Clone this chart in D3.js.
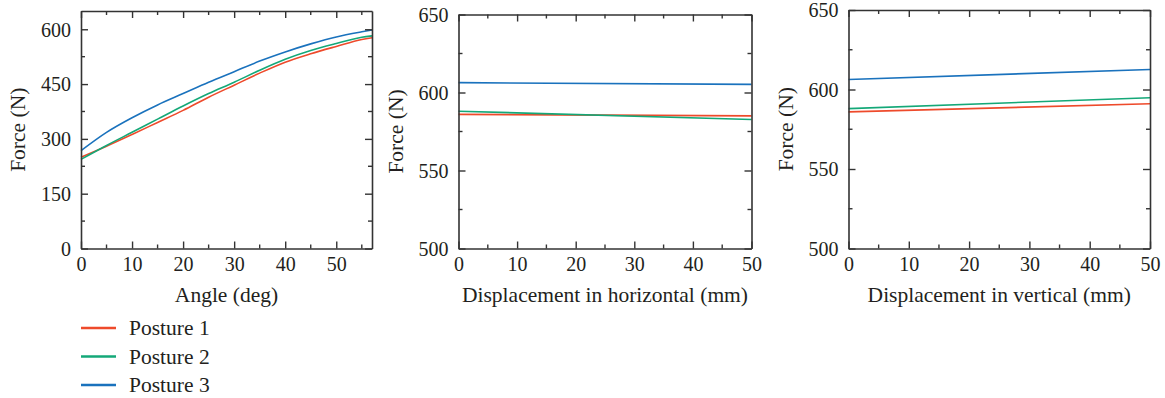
<!DOCTYPE html>
<html><head><meta charset="utf-8">
<script src="https://cdn.jsdelivr.net/npm/d3@7"></script>
<style>body{margin:0;background:#fff}svg{display:block}</style>
</head><body><svg id="c" width="1165" height="398"></svg>
<script>
// ---- data ----
const seriesNames = ["Posture 1", "Posture 2", "Posture 3"];
const seriesColors = ["#ee4a2b", "#14a878", "#1a72bd"];

const angleX = [0, 5, 10, 15, 20, 25, 30, 35, 40, 45, 50, 55, 57];
const angleP1 = [250, 280, 312, 345, 378, 414, 447, 480, 510, 533, 553, 572, 577];
const angleP2 = [244, 282, 318, 354, 390, 424, 455, 488, 518, 542, 561, 578, 582];
const angleP3 = [268, 318, 358, 393, 424, 455, 484, 513, 538, 560, 579, 593, 598];

const horizX = [0, 50];
const horizP1 = [586.0, 585.0];
const horizP2 = [588.0, 582.7];
const horizP3 = [606.3, 605.2];

const vertX = [0, 50];
const vertP1 = [585.9, 591.0];
const vertP2 = [588.0, 594.8];
const vertP3 = [606.3, 612.6];

const yTicks1 = [0, 150, 300, 450, 600];
const yTicks23 = [500, 550, 600, 650];
const xTicks = [0, 10, 20, 30, 40, 50];

const panels = [
  {x: angleX, ys: [angleP1, angleP2, angleP3], xd: [0, 57], yd: [0, 650], yt: yTicks1, ym: 75,
   box: [81, 372, 11, 248.5], xlabel: "Angle (deg)", ylabel: "Force (N)", ylx: 19, curve: d3.curveMonotoneX},
  {x: horizX, ys: [horizP1, horizP2, horizP3], xd: [0, 50], yd: [500, 650], yt: yTicks23, ym: 25,
   box: [458.5, 751.5, 14.5, 248.5], xlabel: "Displacement in horizontal (mm)", ylabel: "Force (N)", ylx: 397, curve: d3.curveLinear},
  {x: vertX, ys: [vertP1, vertP2, vertP3], xd: [0, 50], yd: [500, 650], yt: yTicks23, ym: 25,
   box: [848.5, 1150, 10, 248.5], xlabel: "Displacement in vertical (mm)", ylabel: "Force (N)", ylx: 787, curve: d3.curveLinear}
];

const FONT = "'Liberation Serif', Tinos, 'Times New Roman', 'DejaVu Serif', serif";
const svg = d3.select("#c");
const FS = 20, FS_T = 21.5;
const axisCol = "#333";
const txtCol = "#231f20";

function styleText(sel, fs) {
  sel.style("font-family", FONT).style("font-size", (fs || FS) + "px").style("fill", txtCol);
}

panels.forEach(p => {
  const [l, r, t, b] = p.box;
  const xs = d3.scaleLinear().domain(p.xd).range([l, r]);
  const ys = d3.scaleLinear().domain(p.yd).range([b, t]);
  const g = svg.append("g");

  p.ys.forEach((arr, i) => {
    const pts = p.x.map((xv, j) => [xv, arr[j]]);
    g.append("path").attr("d", d3.line().x(d => xs(d[0])).y(d => ys(d[1])).curve(p.curve)(pts))
      .attr("fill", "none").attr("stroke", seriesColors[i]).attr("stroke-width", 1.6);
  });

  const xMinor = d3.range(p.xd[0], p.xd[1] + 0.001, 5).filter(v => v % 10 !== 0);
  const yMinor = d3.range(p.yd[0], p.yd[1] + 0.001, p.ym).filter(v => !p.yt.includes(v));

  const bx = g.append("g").attr("transform", `translate(0,${b})`)
    .call(d3.axisBottom(xs).tickValues(xTicks).tickSize(-7).tickPadding(10).tickSizeOuter(0));
  bx.append("g").selectAll("line").data(xMinor).join("line")
    .attr("x1", d => xs(d)).attr("x2", d => xs(d)).attr("y1", 0).attr("y2", -4);
  const tx = g.append("g").attr("transform", `translate(0,${t})`)
    .call(d3.axisTop(xs).tickValues(xTicks).tickSize(-7).tickFormat("").tickSizeOuter(0));
  tx.append("g").selectAll("line").data(xMinor).join("line")
    .attr("x1", d => xs(d)).attr("x2", d => xs(d)).attr("y1", 0).attr("y2", 4);
  const lx = g.append("g").attr("transform", `translate(${l},0)`)
    .call(d3.axisLeft(ys).tickValues(p.yt).tickSize(-7).tickPadding(10).tickSizeOuter(0));
  lx.append("g").selectAll("line").data(yMinor).join("line")
    .attr("y1", d => ys(d)).attr("y2", d => ys(d)).attr("x1", 0).attr("x2", 4);
  const rx = g.append("g").attr("transform", `translate(${r},0)`)
    .call(d3.axisRight(ys).tickValues(p.yt).tickSize(-7).tickFormat("").tickSizeOuter(0));
  rx.append("g").selectAll("line").data(yMinor).join("line")
    .attr("y1", d => ys(d)).attr("y2", d => ys(d)).attr("x1", 0).attr("x2", -4);

  [bx, tx, lx, rx].forEach(a => {
    a.attr("font-family", null).attr("font-size", null);
    a.select(".domain").attr("stroke", axisCol).attr("stroke-width", 1.6);
    a.selectAll("line").attr("stroke", axisCol).attr("stroke-width", 1.4);
    styleText(a.selectAll("text"));
  });
  bx.selectAll(".tick text").attr("dy", "0.62em");
  lx.selectAll(".tick text").attr("dy", "0.34em");

  styleText(g.append("text").attr("x", (l + r) / 2).attr("y", 302).attr("text-anchor", "middle").text(p.xlabel), FS_T);
  styleText(g.append("text").attr("transform", `translate(${p.ylx + 6},${(t + b) / 2}) rotate(-90)`)
    .attr("text-anchor", "middle").text(p.ylabel), FS_T);
});

const legY = [328, 356.5, 385];
const lg = svg.append("g");
seriesNames.forEach((n, i) => {
  lg.append("line").attr("x1", 81).attr("x2", 116).attr("y1", legY[i]).attr("y2", legY[i])
    .attr("stroke", seriesColors[i]).attr("stroke-width", 2.4);
  styleText(lg.append("text").attr("x", 129).attr("y", legY[i]).attr("dy", "0.33em").text(n), FS_T);
});
</script></body></html>
